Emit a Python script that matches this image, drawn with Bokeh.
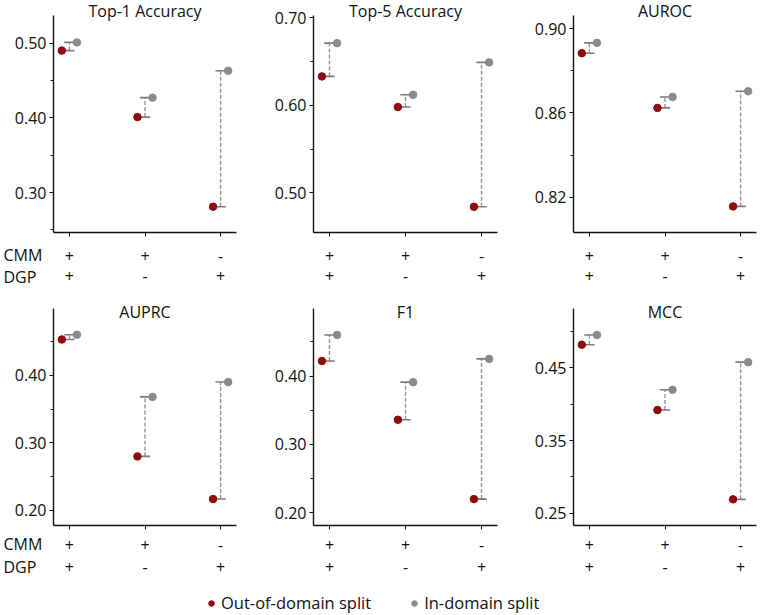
from bokeh.plotting import figure
from bokeh.models import (FixedTicker, PrintfTickFormatter, LinearAxis,
                          Range1d, Legend, LegendItem)
from bokeh.core.properties import value
from bokeh.layouts import column, row
from bokeh.embed import file_html
from bokeh.resources import INLINE

# ---------------- data ----------------
conditions = [0, 1, 2]
cmm_labels = ["+", "+", "-"]
dgp_labels = ["+", "-", "+"]
factor_names = ["CMM", "DGP"]

titles = ["Top-1 Accuracy", "Top-5 Accuracy", "AUROC", "AUPRC", "F1", "MCC"]

top1_ood = [0.490, 0.401, 0.281]
top1_id = [0.501, 0.427, 0.463]
top5_ood = [0.633, 0.598, 0.484]
top5_id = [0.671, 0.612, 0.649]
auroc_ood = [0.8884, 0.8624, 0.8156]
auroc_id = [0.8933, 0.8676, 0.8703]
auprc_ood = [0.453, 0.280, 0.217]
auprc_id = [0.460, 0.368, 0.390]
f1_ood = [0.422, 0.336, 0.220]
f1_id = [0.460, 0.391, 0.425]
mcc_ood = [0.482, 0.392, 0.269]
mcc_id = [0.4955, 0.420, 0.458]

top1_ticks = [0.30, 0.40, 0.50]
top5_ticks = [0.50, 0.60, 0.70]
auroc_ticks = [0.82, 0.86, 0.90]
auprc_ticks = [0.20, 0.30, 0.40]
f1_ticks = [0.20, 0.30, 0.40]
mcc_ticks = [0.25, 0.35, 0.45]

top1_minor = [0.25, 0.35, 0.45]
top5_minor = [0.55, 0.65]
auroc_minor = [0.84, 0.88]
auprc_minor = [0.25, 0.35, 0.45]
f1_minor = [0.25, 0.35, 0.45]
mcc_minor = [0.30, 0.40, 0.50]

top1_range = (0.2465, 0.537)
top5_range = (0.4546, 0.7026)
auroc_range = (0.8032, 0.9063)
auprc_range = (0.1778, 0.4988)
f1_range = (0.1814, 0.4987)
mcc_range = (0.233, 0.5319)

legend_labels = ["Out-of-domain split", "In-domain split"]

# ---------------- style ----------------
FONT = "Open Sans"
RED = "#8f0a0a"
GRAY = "#8a8a8a"
CAP = "#7a7a7a"
DASH = "#959595"
DOT_OFF = 0.1
CAP_HALF = 0.068
X0, X1 = -0.21, 2.21

panels = [
    (titles[0], top1_ood, top1_id, top1_ticks, top1_minor, top1_range),
    (titles[1], top5_ood, top5_id, top5_ticks, top5_minor, top5_range),
    (titles[2], auroc_ood, auroc_id, auroc_ticks, auroc_minor, auroc_range),
    (titles[3], auprc_ood, auprc_id, auprc_ticks, auprc_minor, auprc_range),
    (titles[4], f1_ood, f1_id, f1_ticks, f1_minor, f1_range),
    (titles[5], mcc_ood, mcc_id, mcc_ticks, mcc_minor, mcc_range),
]

col_widths = [260, 260, 240]
col_right = [24, 23, 4]
row_top = [15, 18]
row_bottom = [58, 55]
row_height = 290
title_dy = [-5, 3]
lab_standoff = [(13, 5), (9, 7)]
lab_dy = [(22, 44), (18, 41)]


def make_panel(i):
    title, ood, idv, ticks, minor, yr = panels[i]
    r, c = divmod(i, 3)
    p = figure(width=col_widths[c], height=row_height, output_backend="svg",
               toolbar_location=None, x_range=Range1d(X0, X1),
               y_range=Range1d(*yr), min_border_left=53,
               min_border_right=col_right[c], min_border_top=row_top[r],
               min_border_bottom=row_bottom[r])
    p.grid.visible = False
    p.outline_line_color = None
    p.background_fill_color = "white"
    p.border_fill_color = "white"

    xl = [x - DOT_OFF for x in conditions]
    xr = [x + DOT_OFF for x in conditions]
    c0 = [x - CAP_HALF for x in conditions]
    c1 = [x + CAP_HALF for x in conditions]
    p.segment(x0=conditions, y0=ood, x1=conditions, y1=idv, line_color=DASH,
              line_width=1.4, line_dash="4 2")
    p.segment(x0=c0, y0=ood, x1=c1, y1=ood, line_color=CAP, line_width=1.6)
    p.segment(x0=c0, y0=idv, x1=c1, y1=idv, line_color=CAP, line_width=1.6)
    p.scatter(x=xl, y=ood, size=7.5, fill_color=RED, line_color=RED)
    p.scatter(x=xr, y=idv, size=7.5, fill_color=GRAY, line_color=GRAY)

    ya = p.yaxis[0]
    ya.ticker = FixedTicker(ticks=ticks, minor_ticks=minor)
    ya.formatter = PrintfTickFormatter(format="%.2f")
    ya.major_label_text_font = FONT
    ya.major_label_text_font_size = "16px"
    ya.major_label_text_color = "#111111"
    ya.axis_line_color = "#111111"
    ya.axis_line_width = 1.4
    ya.major_tick_line_color = "#111111"
    ya.minor_tick_line_color = "#111111"
    ya.major_tick_in = 0
    ya.major_tick_out = 4
    ya.minor_tick_in = 0
    ya.minor_tick_out = 3
    ya.major_label_standoff = 3

    xa = p.xaxis[0]
    xa.ticker = FixedTicker(ticks=conditions, minor_ticks=[])
    xa.major_label_overrides = dict(zip(conditions, cmm_labels))
    xa.major_label_text_font = FONT
    xa.major_label_text_font_size = "16px"
    xa.major_label_text_color = "#111111"
    xa.axis_line_color = "#111111"
    xa.axis_line_width = 1.4
    xa.major_tick_line_color = "#111111"
    xa.major_tick_in = 0
    xa.major_tick_out = 4
    xa.minor_tick_line_color = None
    xa.major_label_standoff = lab_standoff[r][0]

    xb = LinearAxis(ticker=FixedTicker(ticks=conditions, minor_ticks=[]),
                    major_label_overrides=dict(zip(conditions, dgp_labels)),
                    axis_line_color=None, major_tick_line_color=None,
                    minor_tick_line_color=None, major_tick_in=0, major_tick_out=0,
                    major_label_text_font=FONT, major_label_text_font_size="16px",
                    major_label_text_color="#111111",
                    major_label_standoff=lab_standoff[r][1])
    p.add_layout(xb, "below")

    # panel title (text glyph drawn at overlay level so it is not clipped)
    p.text(x=[1], y=[yr[1]], text=[title], y_offset=title_dy[r],
           text_align="center", text_baseline="alphabetic",
           text_font=value(FONT), text_font_size="16px", text_color="#111111",
           level="overlay")
    if c == 0:
        p.text(x=[X0, X0], y=[yr[0], yr[0]], text=factor_names,
               x_offset=-50, y_offset=list(lab_dy[r]),
               text_align="left", text_baseline="middle",
               text_font=value(FONT), text_font_size="16px",
               text_color="#111111", level="overlay")
    return p


figs = [make_panel(i) for i in range(6)]

lg = figure(width=760, height=35, output_backend="svg", toolbar_location=None,
            x_range=Range1d(10, 11), y_range=Range1d(10, 11),
            min_border=0, x_axis_location=None, y_axis_location=None)
lg.grid.visible = False
lg.outline_line_color = None
r1 = lg.scatter(x=conditions, y=top1_ood, size=7.5, fill_color=RED, line_color=RED)
r2 = lg.scatter(x=conditions, y=top1_id, size=7.5, fill_color=GRAY, line_color=GRAY)
legend = Legend(items=[LegendItem(label=legend_labels[0], renderers=[r1]),
                       LegendItem(label=legend_labels[1], renderers=[r2])],
                orientation="horizontal", location=(204, 1),
                glyph_width=14, glyph_height=14, label_standoff=3, spacing=36,
                padding=0, margin=0, border_line_color=None,
                background_fill_alpha=0, label_text_font=FONT,
                label_text_font_size="16.5px", label_text_color="#111111")
lg.add_layout(legend, "center")

layout = column(row(*figs[:3]), row(*figs[3:]), lg)

open("out.html", "w").write(file_html(layout, INLINE))
